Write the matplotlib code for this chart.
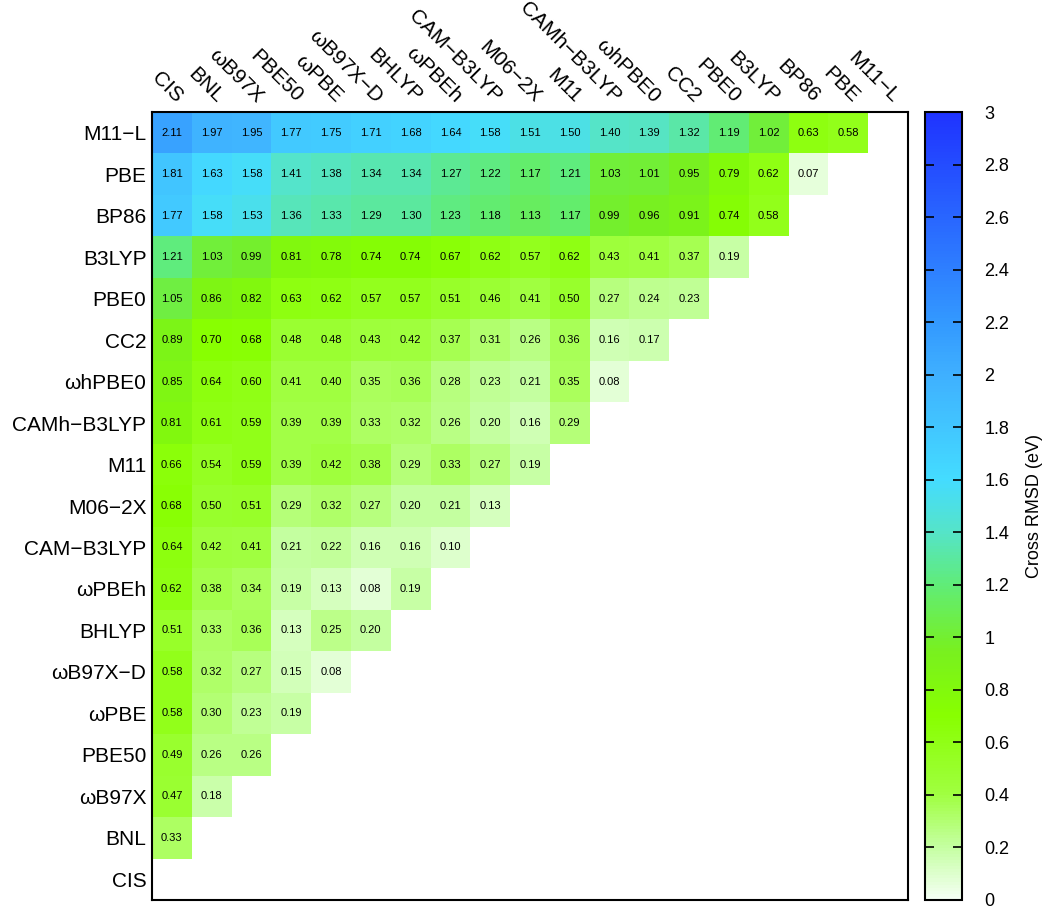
import numpy as np
import matplotlib
matplotlib.use('Agg')
import matplotlib.pyplot as plt
from matplotlib.colors import LinearSegmentedColormap

plt.rcParams['font.family'] = ['Liberation Sans', 'DejaVu Sans']

# methods, ordered as the columns (left to right) / rows (bottom to top)
methods = ['CIS', 'BNL', 'ωB97X', 'PBE50', 'ωPBE', 'ωB97X−D', 'BHLYP', 'ωPBEh',
           'CAM−B3LYP', 'M06−2X', 'M11', 'CAMh−B3LYP', 'ωhPBE0', 'CC2', 'PBE0',
           'B3LYP', 'BP86', 'PBE', 'M11−L']

# cross RMSD (eV): row k holds values against the first k methods
rmsd_bnl = [0.33]
rmsd_wb97x = [0.47, 0.18]
rmsd_pbe50 = [0.49, 0.26, 0.26]
rmsd_wpbe = [0.58, 0.30, 0.23, 0.19]
rmsd_wb97xd = [0.58, 0.32, 0.27, 0.15, 0.08]
rmsd_bhlyp = [0.51, 0.33, 0.36, 0.13, 0.25, 0.20]
rmsd_wpbeh = [0.62, 0.38, 0.34, 0.19, 0.13, 0.08, 0.19]
rmsd_camb3lyp = [0.64, 0.42, 0.41, 0.21, 0.22, 0.16, 0.16, 0.10]
rmsd_m062x = [0.68, 0.50, 0.51, 0.29, 0.32, 0.27, 0.20, 0.21, 0.13]
rmsd_m11 = [0.66, 0.54, 0.59, 0.39, 0.42, 0.38, 0.29, 0.33, 0.27, 0.19]
rmsd_camhb3lyp = [0.81, 0.61, 0.59, 0.39, 0.39, 0.33, 0.32, 0.26, 0.20, 0.16, 0.29]
rmsd_whpbe0 = [0.85, 0.64, 0.60, 0.41, 0.40, 0.35, 0.36, 0.28, 0.23, 0.21, 0.35, 0.08]
rmsd_cc2 = [0.89, 0.70, 0.68, 0.48, 0.48, 0.43, 0.42, 0.37, 0.31, 0.26, 0.36, 0.16, 0.17]
rmsd_pbe0 = [1.05, 0.86, 0.82, 0.63, 0.62, 0.57, 0.57, 0.51, 0.46, 0.41, 0.50, 0.27, 0.24, 0.23]
rmsd_b3lyp = [1.21, 1.03, 0.99, 0.81, 0.78, 0.74, 0.74, 0.67, 0.62, 0.57, 0.62, 0.43, 0.41, 0.37, 0.19]
rmsd_bp86 = [1.77, 1.58, 1.53, 1.36, 1.33, 1.29, 1.30, 1.23, 1.18, 1.13, 1.17, 0.99, 0.96, 0.91, 0.74, 0.58]
rmsd_pbe = [1.81, 1.63, 1.58, 1.41, 1.38, 1.34, 1.34, 1.27, 1.22, 1.17, 1.21, 1.03, 1.01, 0.95, 0.79, 0.62, 0.07]
rmsd_m11l = [2.11, 1.97, 1.95, 1.77, 1.75, 1.71, 1.68, 1.64, 1.58, 1.51, 1.50, 1.40, 1.39, 1.32, 1.19, 1.02, 0.63, 0.58]

rows = [[], rmsd_bnl, rmsd_wb97x, rmsd_pbe50, rmsd_wpbe, rmsd_wb97xd, rmsd_bhlyp,
        rmsd_wpbeh, rmsd_camb3lyp, rmsd_m062x, rmsd_m11, rmsd_camhb3lyp, rmsd_whpbe0,
        rmsd_cc2, rmsd_pbe0, rmsd_b3lyp, rmsd_bp86, rmsd_pbe, rmsd_m11l]

n = len(methods)
mat = np.full((n, n), np.nan)
for i, r in enumerate(rows):
    mat[i, :len(r)] = r
data = np.ma.masked_invalid(mat)

# palette: white -> lime green -> cyan -> blue
vmax = 3.0
nodes = [(0.00, '#f4fff4'), (0.20, '#c4ffa0'), (0.40, '#a0ff40'), (0.70, '#88ff00'),
         (0.95, '#78f020'), (1.20, '#60ec78'), (1.40, '#55e4c8'), (1.60, '#44dcff'),
         (2.00, '#3fb0ff'), (2.20, '#3399ff'), (3.00, '#1f33ff')]
cmap = LinearSegmentedColormap.from_list('rmsd', [(v / vmax, c) for v, c in nodes])
cmap.set_bad('white')

fig = plt.figure(figsize=(10.5, 9.16), dpi=100)
ax = fig.add_axes([152 / 1050, 16 / 916, 756 / 1050, 788 / 916])
mesh = ax.pcolormesh(np.arange(n + 1), np.arange(n + 1), data, cmap=cmap,
                     vmin=0, vmax=vmax)
ax.set_xlim(0, n)
ax.set_ylim(0, n)

for i in range(n):
    for j in range(len(rows[i])):
        ax.text(j + 0.5, i + 0.5, '%.2f' % mat[i, j], ha='center', va='center',
                fontsize=8, color='black')

ax.set_yticks(np.arange(n) + 0.5)
ax.set_yticklabels(methods, fontsize=15)
ax.tick_params(axis='y', length=0, pad=4)
ax.set_xticks([])

# column labels on top, slanted down to the right
for j, name in enumerate(methods):
    ax.text(j + 0.6, n + 0.2, name, rotation=-45, rotation_mode='anchor',
            ha='right', va='baseline', fontsize=15)

for s in ax.spines.values():
    s.set_linewidth(1.5)

# colour bar
cax = fig.add_axes([925 / 1050, 16 / 916, 37 / 1050, 788 / 916])
cb = fig.colorbar(mesh, cax=cax)
ticks = np.round(np.arange(0, 3.01, 0.2), 1)
cb.set_ticks(ticks)
cb.set_ticklabels(['%g' % t for t in ticks])
cax.tick_params(direction='in', left=True, right=True, length=6.5, width=1.2,
                labelsize=13, pad=16)
cb.outline.set_linewidth(1.5)
cb.set_label('Cross RMSD (eV)', fontsize=13, labelpad=12)

fig.savefig('out.png', dpi=100)
